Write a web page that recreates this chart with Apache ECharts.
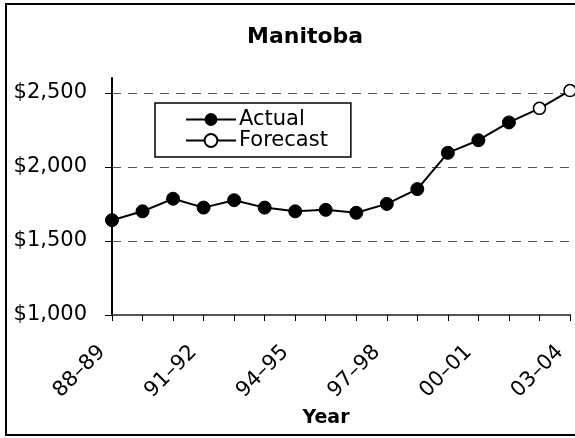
<!DOCTYPE html>
<html>
<head>
<meta charset="utf-8">
<script src="https://cdn.jsdelivr.net/npm/echarts@6/dist/echarts.min.js"></script>
<style>
  html, body { margin: 0; padding: 0; background: #fff; }
  #chart { width: 575px; height: 438px; }
</style>
</head>
<body>
<div id="chart"></div>
<script>
// fiscal years
const years = ["88–89", "89–90", "90–91", "91–92", "92–93", "93–94", "94–95", "95–96",
  "96–97", "97–98", "98–99", "99–00", "00–01", "01–02", "02–03", "03–04"];
// actual values, 88-89 .. 01-02
const actual = [1640, 1700, 1785, 1725, 1775, 1725, 1700, 1710, 1690, 1750, 1850, 2095, 2180, 2300];
// forecast values, 02-03 .. 03-04
const forecast = [2395, 2515];
const yTicks = [1000, 1500, 2000, 2500];

const FONT = "DejaVu Sans";

// forecast line starts from the last actual point (no marker there)
const forecastData = years.map(() => null);
forecastData[actual.length - 1] = { value: actual[actual.length - 1], symbol: "none" };
forecast.forEach((v, i) => { forecastData[actual.length + i] = v; });

const chart = echarts.init(document.getElementById("chart"));
chart.setOption({
  animation: false,
  title: {
    text: "Manitoba",
    left: 242,
    top: 21,
    textStyle: { fontFamily: FONT, fontSize: 22, fontWeight: "bold", color: "#000" }
  },
  // outer frame
  graphic: [{
    type: "rect",
    shape: { x: 6, y: 4, width: 600, height: 431 },
    style: { fill: null, stroke: "#000", lineWidth: 2 },
    silent: true
  }],
  legend: {
    left: 155,
    top: 103,
    orient: "vertical",
    padding: [6, 23, 6, 30],
    itemGap: 0,
    itemWidth: 50,
    itemHeight: 16,
    borderColor: "#000",
    borderWidth: 1.5,
    textStyle: { fontFamily: FONT, fontSize: 21, color: "#000", padding: [0, 0, 0, -2] },
    data: ["Actual", "Forecast"]
  },
  grid: { left: 112, right: 5, top: 78, bottom: 123 },
  xAxis: {
    type: "category",
    data: years,
    boundaryGap: false,
    name: "Year",
    nameLocation: "middle",
    nameGap: 93,
    nameTextStyle: { fontFamily: FONT, fontSize: 19, fontWeight: "bold", color: "#000", padding: [0, 30, 0, 0] },
    axisLine: { lineStyle: { color: "#555", width: 2 } },
    axisTick: { interval: 0, length: 6, lineStyle: { color: "#000", width: 1 } },
    axisLabel: {
      interval: 2,
      rotate: 45,
      margin: 24,
      padding: [0, 14, 0, 0],
      fontFamily: FONT,
      fontSize: 21,
      color: "#000"
    }
  },
  yAxis: {
    type: "value",
    min: 1000,
    max: 2600,
    interval: 500,
    axisLine: { show: true, lineStyle: { color: "#000", width: 2 } },
    axisTick: { show: true, length: 7, customValues: yTicks, lineStyle: { color: "#000", width: 1 } },
    axisLabel: {
      customValues: yTicks,
      margin: 25,
      fontFamily: FONT,
      fontSize: 21,
      color: "#000",
      formatter: v => "$" + v.toLocaleString("en-US")
    },
    splitLine: {
      show: true,
      lineStyle: { color: ["#555", "#555", "#555", "#555", "transparent"], type: [9, 7], width: 1 }
    }
  },
  series: [
    {
      name: "Actual",
      type: "line",
      data: actual,
      symbol: "circle",
      symbolSize: 13,
      lineStyle: { color: "#000", width: 2 },
      itemStyle: { color: "#000", borderColor: "#000" }
    },
    {
      name: "Forecast",
      type: "line",
      data: forecastData,
      symbol: "circle",
      symbolSize: 12,
      lineStyle: { color: "#000", width: 2 },
      itemStyle: { color: "#fff", borderColor: "#000", borderWidth: 1.5 }
    }
  ]
});
</script>
</body>
</html>
